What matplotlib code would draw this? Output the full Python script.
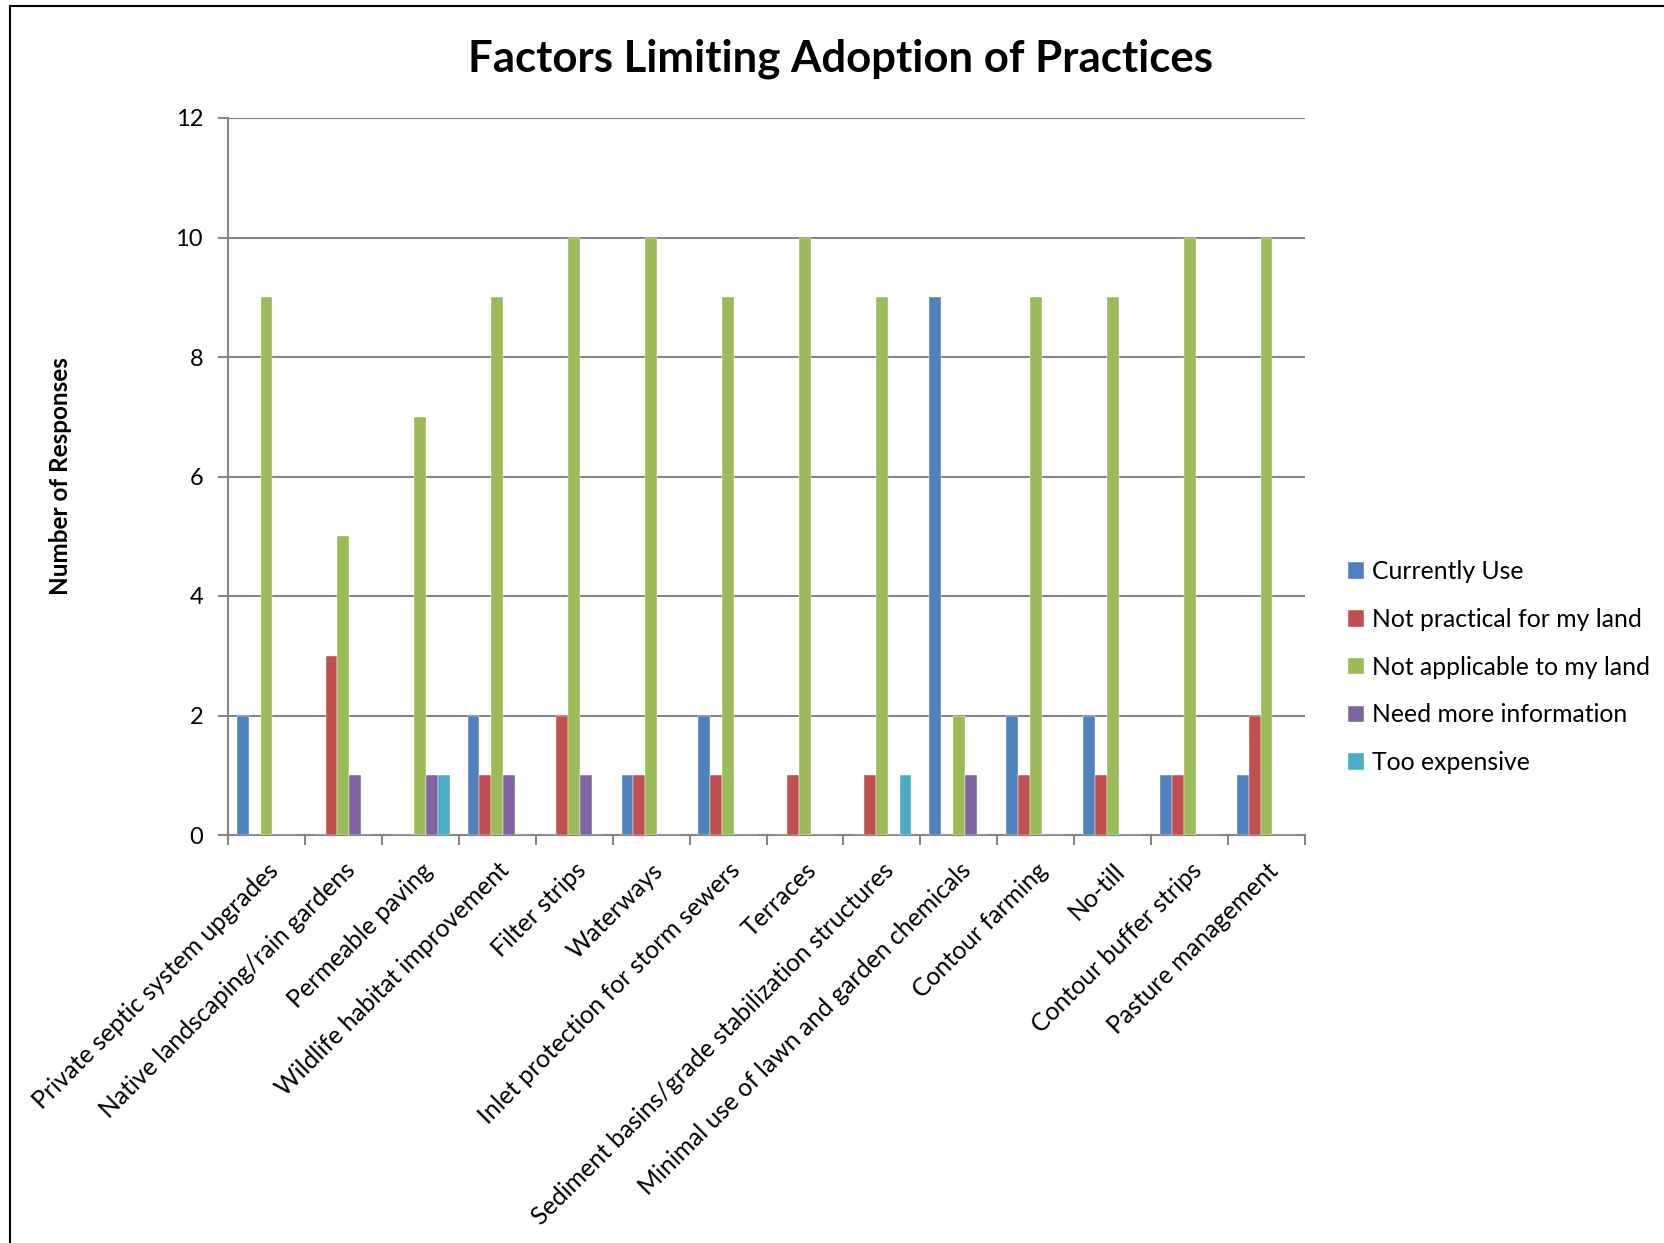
import numpy as np
import matplotlib.pyplot as plt
from matplotlib.lines import Line2D

plt.rcParams['font.family'] = ['Lato', 'DejaVu Sans']

practices = ['Private septic system upgrades', 'Native landscaping/rain gardens',
             'Permeable paving', 'Wildlife habitat improvement', 'Filter strips',
             'Waterways', 'Inlet protection for storm sewers', 'Terraces',
             'Sediment basins/grade stabilization structures',
             'Minimal use of lawn and garden chemicals', 'Contour farming',
             'No-till', 'Contour buffer strips', 'Pasture management']

currently_use = [2, 0, 0, 2, 0, 1, 2, 0, 0, 9, 2, 2, 1, 1]
not_practical = [0, 3, 0, 1, 2, 1, 1, 1, 1, 0, 1, 1, 1, 2]
not_applicable = [9, 5, 7, 9, 10, 10, 9, 10, 9, 2, 9, 9, 10, 10]
need_info = [0, 1, 1, 1, 1, 0, 0, 0, 0, 1, 0, 0, 0, 0]
too_expensive = [0, 0, 1, 0, 0, 0, 0, 0, 1, 0, 0, 0, 0, 0]

series = [('Currently Use', currently_use, '#4F81BD'),
          ('Not practical for my land', not_practical, '#C0504D'),
          ('Not applicable to my land', not_applicable, '#9BBB59'),
          ('Need more information', need_info, '#8064A2'),
          ('Too expensive', too_expensive, '#4BACC6')]

fig = plt.figure(figsize=(16.64, 12.43), dpi=100)
ax = fig.add_axes([228/1664, 1 - 835/1243, 1077/1664, 717/1243])

x = np.arange(len(practices))
n = len(series)
w = 1 / (n + 1.5)
for i, (name, vals, col) in enumerate(series):
    ax.bar(x + (i - (n - 1) / 2) * w, vals, w, color=col, label=name,
           edgecolor='white', linewidth=0.3, zorder=3)

ax.set_xlim(-0.5, len(practices) - 0.5)
ax.set_ylim(0, 12)
ax.set_yticks(range(0, 13, 2))
ax.yaxis.grid(True, color='#868686', linewidth=1.5, zorder=0)

grey = '#868686'
for s in ['top', 'right']:
    ax.spines[s].set_visible(False)
for s in ['left', 'bottom']:
    ax.spines[s].set_color(grey)
    ax.spines[s].set_linewidth(1.5)

# ticks sit between categories, labels under the group centres
ax.set_xticks(np.arange(-0.5, len(practices)), minor=False)
ax.set_xticklabels([])
ax.set_xticks(x, minor=True)
ax.set_xticklabels(practices, minor=True, rotation=45, ha='right',
                   rotation_mode='anchor', fontsize=17.8)
ax.tick_params(axis='x', which='major', length=7, width=1.5, color=grey)
ax.tick_params(axis='x', which='minor', length=0, pad=17)
ax.tick_params(axis='y', length=7, width=1.5, color=grey, labelsize=17, pad=11)

ax.set_ylabel('Number of Responses', fontsize=17.5, fontweight='bold')
ax.yaxis.set_label_coords(-0.145, 0.5)

fig.text(841/1664, 1 - 59/1243, 'Factors Limiting Adoption of Practices',
         ha='center', va='center', fontsize=31.5, fontweight='bold')

ax.legend(loc='center left', bbox_to_anchor=(1.04, 0.234), frameon=False,
          fontsize=17.8, handlelength=0.65, handleheight=0.65, handletextpad=0.3,
          labelspacing=1.0, borderpad=0, borderaxespad=0)

# chart border (cut at the picture edges)
fig.add_artist(Line2D([10/1664, 10/1664], [0, 1 - 6/1243], transform=fig.transFigure,
                      color='black', linewidth=1.5))
fig.add_artist(Line2D([10/1664, 1], [1 - 6/1243, 1 - 6/1243], transform=fig.transFigure,
                      color='black', linewidth=1.5))

fig.savefig('out.png', dpi=100)
